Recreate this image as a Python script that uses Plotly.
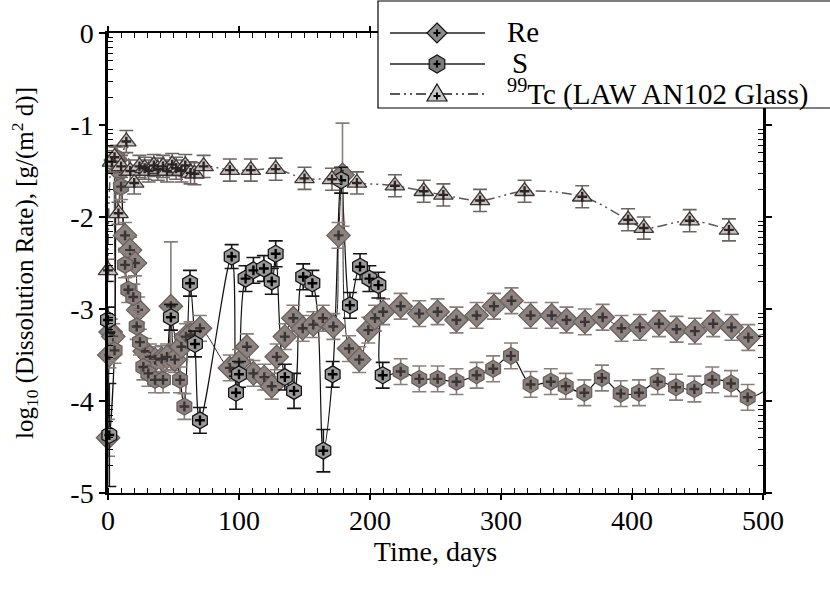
import plotly.graph_objects as go
import math

# ---------------- data ----------------
re_t = [0, 1, 2, 4, 6, 9, 13, 16.8, 20.6, 23, 28, 32, 36, 41, 45, 48, 51, 56, 59.5, 63, 70.2,
        93, 100, 106, 111, 119.3, 125, 128.8, 135, 141.5, 148.6, 156.7, 164, 172, 176, 179,
        184, 191.8, 198.7, 203.8, 210, 223.4, 237.6, 251.6, 266, 281.4, 294.6, 308, 322.6,
        338.7, 350, 364, 377.6, 392, 406, 420.6, 434, 448, 462, 476, 488.8, 515]
re_y = [-4.40, -3.50, -3.25, -3.30, -1.38, -1.50, -2.20, -2.36, -2.50, -3.01, -3.46, -3.52,
        -3.55, -3.54, -3.52, -2.97, -3.55, -3.41, -3.30, -3.28, -3.21,
        -3.64, -3.58, -3.41, -3.70, -3.74, -3.84, -3.52, -3.30, -3.10, -3.21, -3.17, -3.10,
        -3.19, -2.20, -1.54,
        -3.43, -3.55, -3.23, -3.10, -3.03, -2.97, -3.05, -3.03, -3.12, -3.07, -2.97, -2.91,
        -3.07, -3.07, -3.12, -3.14, -3.09, -3.21, -3.20, -3.16, -3.22, -3.24, -3.16, -3.20,
        -3.31, -3.17]
re_err = [0.2, 0.14, 0.14, 0.14, 0.14, 0.14, 0.14, 0.14, 0.14, 0.14, 0.14, 0.14,
          0.14, 0.14, 0.14, 0.70, 0.14, 0.14, 0.14, 0.14, 0.14,
          0.14, 0.14, 0.14, 0.14, 0.14, 0.14, 0.14, 0.14, 0.14, 0.14, 0.14, 0.14,
          0.14, 0.14, 0.56,
          0.14, 0.14, 0.14, 0.14, 0.14, 0.14, 0.14, 0.14, 0.14, 0.14, 0.14, 0.14,
          0.14, 0.14, 0.14, 0.14, 0.14, 0.14, 0.14, 0.14, 0.14, 0.14, 0.14, 0.14,
          0.14, 0.0]

s_t = [0, 1, 5, 7, 10, 13, 15.5, 19.3, 21.9, 24.4, 27, 30.8, 35.9, 42, 48, 55, 58.3, 62.6,
       66.4, 70.2, 94.4, 97.7, 100, 105, 111, 119, 125, 128, 135, 142, 149, 156, 164.4, 171.5,
       178, 184.7, 192.4, 199.5, 206.4, 209.7, 223.4, 237.6, 251.6, 266, 281.4, 294, 307.6,
       322.6, 338, 349.4, 363.6, 377, 391.4, 405.3, 419.6, 433.6, 447.6, 461.3, 475.6, 488.3,
       515]
s_y = [-3.12, -4.37, -3.45, -1.36, -1.67, -2.52, -2.79, -2.87, -3.19, -3.36, -3.63, -3.70,
       -3.77, -3.77, -3.09, -3.77, -4.06, -2.72, -3.38, -4.21, -2.43, -3.91, -3.71, -2.67,
       -2.58, -2.56, -2.70, -2.40, -3.74, -3.89, -2.65, -2.72, -4.54, -3.71, -1.60, -2.96,
       -2.54, -2.67, -2.74, -3.72, -3.68, -3.76, -3.76, -3.79, -3.72, -3.65, -3.51, -3.82,
       -3.79, -3.84, -3.91, -3.75, -3.92, -3.91, -3.79, -3.85, -3.87, -3.77, -3.81, -3.96,
       -3.75]
s_err = [0.14, 0.56, 0.14, 0.14, 0.14, 0.14, 0.14, 0.14, 0.14, 0.14, 0.14, 0.14,
         0.14, 0.14, 0.14, 0.14, 0.14, 0.14, 0.14, 0.14, 0.13, 0.18, 0.14, 0.14,
         0.14, 0.14, 0.14, 0.14, 0.14, 0.19, 0.14, 0.14, 0.23, 0.14, 0.14, 0.14,
         0.14, 0.14, 0.14, 0.14, 0.14, 0.14, 0.14, 0.14, 0.14, 0.14, 0.14, 0.14,
         0.14, 0.14, 0.14, 0.14, 0.14, 0.14, 0.14, 0.14, 0.14, 0.14, 0.14, 0.14,
         0.0]

tc_t = [0, 3, 5, 8, 10, 14, 17, 20, 24, 28, 31, 35, 38, 42, 45, 49, 52, 56, 59, 63, 66, 73,
        93, 109, 128, 150, 171, 190, 219, 241, 256, 284, 318, 362, 397, 409, 444, 474]
tc_y = [-2.58, -1.40, -1.35, -1.96, -1.45, -1.18, -1.50, -1.63, -1.45, -1.47, -1.50, -1.44,
        -1.48, -1.45, -1.50, -1.43, -1.47, -1.50, -1.44, -1.52, -1.53, -1.45,
        -1.49, -1.49, -1.48, -1.58, -1.59, -1.63, -1.66, -1.72, -1.76, -1.82, -1.72, -1.78,
        -2.03, -2.12, -2.04, -2.14]
tc_err = [0.12] * len(tc_t)

series_names = ["Re", "S", "<sup>99</sup>Tc (LAW AN102 Glass)"]
x_ticks = [0, 100, 200, 300, 400, 500]
y_ticks = [-5, -4, -3, -2, -1, 0]
y_tick_text = ["-5", "-4", "-3", "-2", "-1", "0"]

FONT = "Liberation Serif"
X_MAX = 500
TC_DASH = "10px,4px,2px,4px,2px,4px"

# figure geometry (pixels)
W, H = 830, 596
ML, MR, MT, MB = 108, 67, 33, 103
PW, PH = W - ML - MR, H - MT - MB

fig = go.Figure()


def visible(t):
    return [i for i, v in enumerate(t) if v <= X_MAX]


def add_line(t, y, color, width, dash="solid"):
    fig.add_trace(go.Scatter(x=t, y=y, mode="lines", showlegend=False, hoverinfo="skip",
                             line=dict(color=color, width=width, dash=dash, shape="spline",
                                       smoothing=1.0)))


def add_markers(t, y, err, idx, symbol, size, fill, edge, errcolor, crosscolor):
    xs = [t[i] for i in idx]
    ys = [y[i] for i in idx]
    es = [err[i] for i in idx]
    fig.add_trace(go.Scatter(
        x=xs, y=ys, mode="markers", showlegend=False, cliponaxis=False,
        marker=dict(symbol=symbol, size=size, color=fill, line=dict(color=edge, width=1.3)),
        error_y=dict(type="data", array=es, visible=True, color=errcolor, thickness=1.6,
                     width=7)))
    fig.add_trace(go.Scatter(
        x=xs, y=ys, mode="markers", showlegend=False, cliponaxis=False, hoverinfo="skip",
        marker=dict(symbol="cross-thin", size=7, line=dict(color=crosscolor, width=2.4))))


add_line(tc_t, tc_y, "#5e5656", 1.5, TC_DASH)
add_line(re_t, re_y, "#2e2a2a", 1.0)
add_line(s_t, s_y, "#111111", 1.2)

add_markers(re_t, re_y, re_err, visible(re_t), "diamond", 18,
            "#8d8482", "#6a605e", "#8a7e7b", "#3a3434")

s_vis = visible(s_t)
s_dark = [i for i in s_vis if s_t[i] <= 1 or s_t[i] == 48 or 60 <= s_t[i] <= 212]
s_brown = [i for i in s_vis if i not in s_dark]
add_markers(s_t, s_y, s_err, s_brown, "hexagon", 17,
            "#8a807e", "#6a605e", "#8a7e7b", "#3a3434")
add_markers(s_t, s_y, s_err, s_dark, "hexagon", 17,
            "#9b9999", "#161616", "#161616", "#000000")

add_markers(tc_t, tc_y, tc_err, visible(tc_t), "triangle-up", 17,
            "#c9c2c0", "#3c3636", "#6e6462", "#2a2424")

# ---------------- hand-drawn legend (shapes + annotations, paper coords) ----------------
def px(xp):
    return (xp - ML) / PW


def py(yp):
    return (H - MB - yp) / PH


def poly(points):
    return "M" + " L".join(f"{px(a):.5f},{py(b):.5f}" for a, b in points) + " Z"


shapes = []
annotations = []
shapes.append(dict(type="rect", xref="paper", yref="paper", x0=px(378), x1=px(840),
                   y0=py(108), y1=py(1), line=dict(color="black", width=1.2),
                   fillcolor="white", layer="above"))

row_y = [33, 64, 94]
text_y = [32, 63, 92]
lx0, lx1, cx = 390, 485, 437
text_x = [505, 510, 505]
for k, name in enumerate(series_names):
    ry = row_y[k]
    shapes.append(dict(type="line", xref="paper", yref="paper", x0=px(lx0), x1=px(lx1),
                       y0=py(ry), y1=py(ry), layer="above",
                       line=dict(color="#222", width=1.3,
                                 dash=TC_DASH if k == 2 else "solid")))
    if k == 0:
        pts = [(cx, ry - 10), (cx + 10, ry), (cx, ry + 10), (cx - 10, ry)]
        fill = "#8c8c8c"
    elif k == 1:
        r = 9
        pts = [(cx + r * math.cos(math.radians(a)), ry - r * math.sin(math.radians(a)))
               for a in range(90, 450, 60)]
        fill = "#7a7a7a"
    else:
        pts = [(cx, ry - 10), (cx + 10, ry + 7), (cx - 10, ry + 7)]
        fill = "#c8c8c8"
    shapes.append(dict(type="path", xref="paper", yref="paper", path=poly(pts),
                       fillcolor=fill, line=dict(color="#111", width=1.2), layer="above"))
    cy = ry + (2 if k == 2 else 0)
    shapes.append(dict(type="line", xref="paper", yref="paper", x0=px(cx - 3.5), x1=px(cx + 3.5),
                       y0=py(cy), y1=py(cy), line=dict(color="#000", width=2), layer="above"))
    shapes.append(dict(type="line", xref="paper", yref="paper", x0=px(cx), x1=px(cx),
                       y0=py(cy - 3.5), y1=py(cy + 3.5), line=dict(color="#000", width=2),
                       layer="above"))
    annotations.append(dict(xref="paper", yref="paper", x=px(text_x[k]), y=py(text_y[k]),
                            xanchor="left", yanchor="middle", showarrow=False, text=name,
                            font=dict(family=FONT, size=29, color="black")))

y_minor = [n + math.log10(m) for n in range(-5, 0) for m in range(2, 10)]

fig.update_layout(
    width=W, height=H,
    margin=dict(l=ML, r=MR, t=MT, b=MB, autoexpand=False),
    paper_bgcolor="white", plot_bgcolor="white",
    font=dict(family=FONT, color="black", size=28),
    showlegend=False,
    shapes=shapes,
    annotations=annotations,
    xaxis=dict(range=[0, X_MAX], tickvals=x_ticks, ticktext=[str(v) for v in x_ticks],
               showgrid=False, zeroline=False, showline=True, linecolor="black",
               linewidth=2, mirror="ticks", ticks="outside", ticklen=5, tickwidth=1.5,
               tickcolor="black", tickfont=dict(family=FONT, size=28), ticklabelstandoff=-4,
               minor=dict(dtick=10, tick0=0, ticks="inside", ticklen=5, tickwidth=1,
                          tickcolor="black", showgrid=False),
               title=dict(text="Time, days", font=dict(family=FONT, size=28), standoff=4)),
    yaxis=dict(range=[-5, 0], tickvals=y_ticks, ticktext=y_tick_text,
               showgrid=False, zeroline=False, showline=True, linecolor="black",
               linewidth=2.5, mirror="ticks", ticks="outside", ticklen=6, tickwidth=1.5,
               tickcolor="black", tickfont=dict(family=FONT, size=28),
               minor=dict(tickmode="array", tickvals=y_minor, ticks="inside", ticklen=5,
                          tickwidth=1, tickcolor="black", showgrid=False),
               title=dict(text="log<sub>10</sub> (Dissolution Rate), [g/(m<sup>2</sup> d)]",
                          font=dict(family=FONT, size=25), standoff=30)),
)

fig.write_html("out.html")
